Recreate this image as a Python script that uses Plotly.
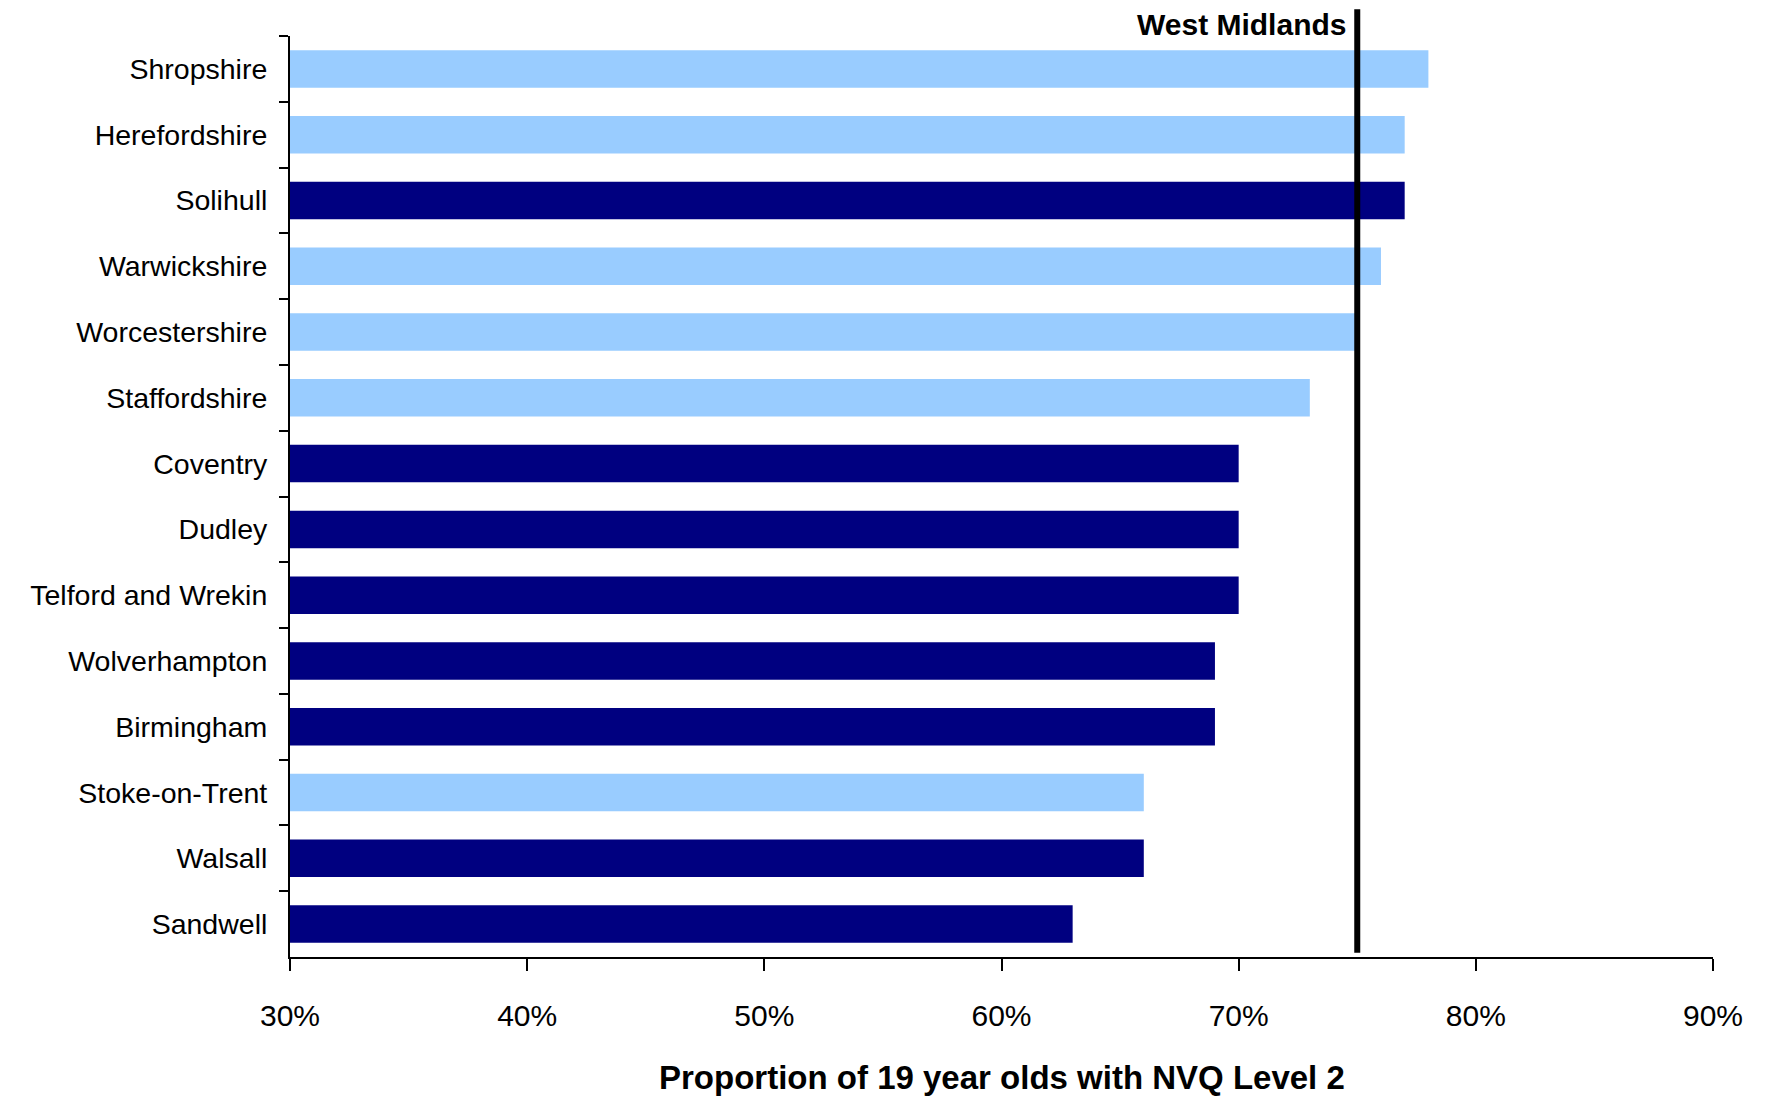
import plotly.graph_objects as go

categories = ["Shropshire", "Herefordshire", "Solihull", "Warwickshire", "Worcestershire",
              "Staffordshire", "Coventry", "Dudley", "Telford and Wrekin", "Wolverhampton",
              "Birmingham", "Stoke-on-Trent", "Walsall", "Sandwell"]
values = [0.78, 0.77, 0.77, 0.76, 0.75, 0.73, 0.70, 0.70, 0.70, 0.69, 0.69, 0.66, 0.66, 0.63]
area_type = ["light", "light", "dark", "light", "light", "light", "dark", "dark", "dark",
             "dark", "dark", "light", "dark", "dark"]
west_midlands = 0.75
x_ticks = [0.3, 0.4, 0.5, 0.6, 0.7, 0.8, 0.9]
x_title = "Proportion of 19 year olds with NVQ Level 2"

color_map = {"light": "#99CCFF", "dark": "#000080"}
colors = [color_map[t] for t in area_type]

FONT = "Liberation Sans"

fig = go.Figure()
fig.add_trace(go.Bar(
    y=categories, x=values, orientation="h",
    marker=dict(color=colors, line=dict(width=0)),
    showlegend=False, hoverinfo="x+y",
))

fig.add_shape(type="line", xref="x", yref="paper",
              x0=west_midlands, x1=west_midlands, y0=0.0045, y1=1.029,
              line=dict(color="black", width=6))
fig.add_annotation(x=west_midlands, xref="x", y=1.012, yref="paper",
                   text="<b>West Midlands</b>", showarrow=False,
                   xanchor="right", yanchor="middle", xshift=-9,
                   font=dict(family=FONT, size=30, color="black"))
fig.add_annotation(x=0.5, xref="paper", y=-0.131, yref="paper",
                   text="<b>" + x_title + "</b>", showarrow=False,
                   xanchor="center", yanchor="middle",
                   font=dict(family=FONT, size=33, color="black"))

fig.update_layout(
    width=1757, height=1092,
    margin=dict(l=282, r=52, t=28, b=143),
    plot_bgcolor="white", paper_bgcolor="white",
    bargap=0.43,
    font=dict(family=FONT, color="black"),
    xaxis=dict(
        range=[0.3, 0.9], tickvals=x_ticks, tickformat=".0%",
        showgrid=False, zeroline=False, automargin=False,
        showline=True, linecolor="black", linewidth=2,
        ticks="outside", ticklen=12, tickwidth=2, tickcolor="black",
        ticklabelstandoff=19,
        tickfont=dict(family=FONT, size=30, color="black"),
    ),
    yaxis=dict(
        type="category", autorange="reversed", automargin=False,
        showgrid=False, zeroline=False,
        showline=True, linecolor="black", linewidth=2,
        ticks="outside", ticklen=9, tickwidth=2, tickcolor="black",
        tickson="boundaries", ticklabelstandoff=15,
        tickfont=dict(family=FONT, size=28.5, color="black"),
    ),
)

fig.write_html("out.html")
